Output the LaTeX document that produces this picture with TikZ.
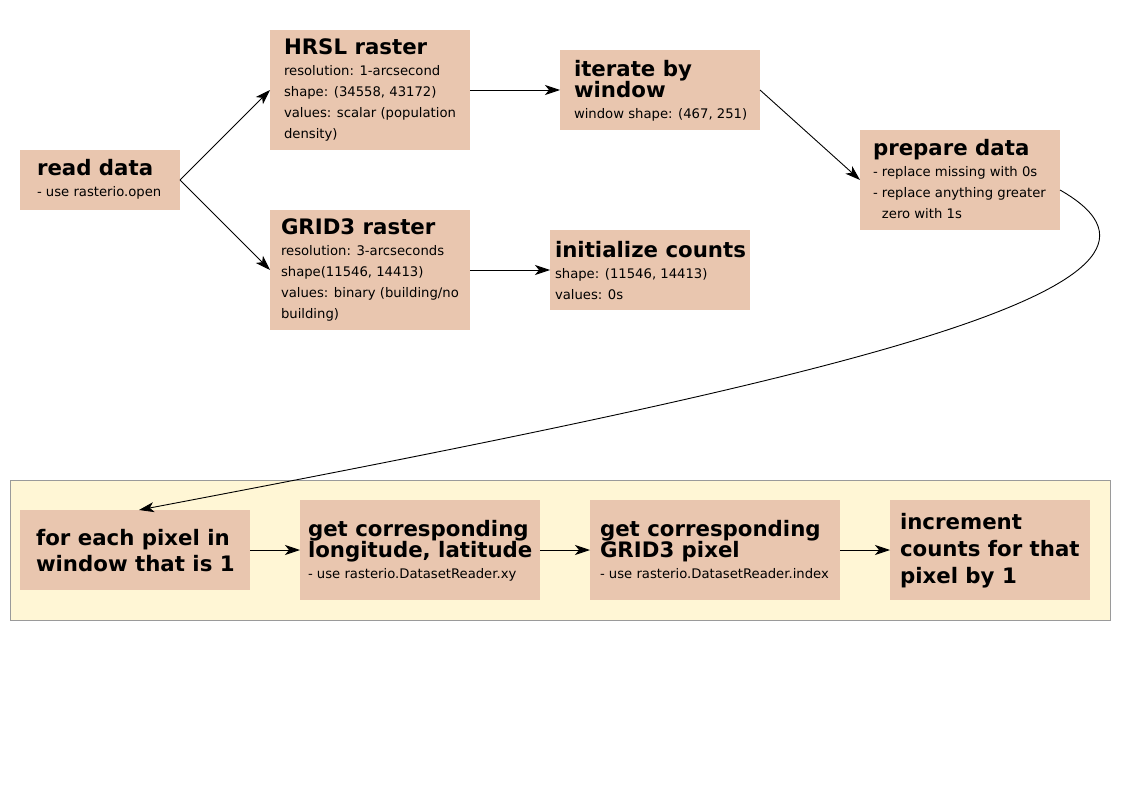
\documentclass[tikz,border=0pt]{standalone}
\usepackage{fontspec}
\setmainfont{DejaVu Sans}
\usetikzlibrary{arrows.meta}
\definecolor{boxfill}{HTML}{E9C6AF}
\definecolor{loopfill}{HTML}{FFF6D5}
\definecolor{loopdraw}{HTML}{9A9A9A}
\newcommand\ttl[1]{\hbox{\fontsize{21.3}{21}\selectfont\bfseries #1}}
\newcommand\bdy[1]{\hbox{\fontsize{13.2}{21}\selectfont #1}}
\newcommand\txtstack[2]{\vtop{\baselineskip=#1pt\lineskiplimit=-100pt #2}}
\begin{document}
\begin{tikzpicture}[x=1pt,y=-1pt,
  box/.style={fill=boxfill, draw=none, inner sep=0pt, outer sep=0pt, anchor=north west},
  loopbox/.style={fill=loopfill, draw=loopdraw, line width=1pt, inner sep=0pt, outer sep=0pt, anchor=north west},
  txt/.style={inner sep=0pt, outer sep=0pt, anchor=base west, text=black},
  conn/.style={draw=black, line width=0.9pt, -{Stealth[length=15pt,width=10pt,inset=4pt]}}]
\useasboundingbox (0,0) rectangle (1123,794);
\fill[white] (0,0) rectangle (1123,794);

% loop container
\node[loopbox, minimum width=1100pt, minimum height=140pt] (loop) at (10,480) {};

% boxes
\node[box, minimum width=160pt, minimum height=60pt]  (rd)   at (20,150) {};
\node[box, minimum width=200pt, minimum height=120pt] (hrsl) at (270,30) {};
\node[box, minimum width=200pt, minimum height=120pt] (grid) at (270,210) {};
\node[box, minimum width=200pt, minimum height=80pt]  (iter) at (560,50) {};
\node[box, minimum width=200pt, minimum height=80pt]  (init) at (550,230) {};
\node[box, minimum width=200pt, minimum height=100pt] (prep) at (860,130) {};
\node[box, minimum width=230pt, minimum height=80pt]  (each) at (20,510) {};
\node[box, minimum width=240pt, minimum height=100pt] (lon)  at (300,500) {};
\node[box, minimum width=250pt, minimum height=100pt] (gpx)  at (590,500) {};
\node[box, minimum width=200pt, minimum height=100pt] (inc)  at (890,500) {};

% texts
\node[txt] (rdT) at (37,176) {\txtstack{21}{\ttl{read data}\bdy{- use rasterio.open}}};
\node[txt] (hrslT) at (284,54.5) {\txtstack{21}{\ttl{HRSL raster}\bdy{resolution: 1-arcsecond}\bdy{shape: (34558, 43172)}\bdy{values: scalar (population}\bdy{density)}}};
\node[txt] (gridT) at (281,234.5) {\txtstack{21}{\ttl{GRID3 raster}\bdy{resolution: 3-arcseconds}\bdy{shape(11546, 14413)}\bdy{values: binary (building/no}\bdy{building)}}};
\node[txt] (iterT) at (574,76.5) {\txtstack{21}{\ttl{iterate by}\ttl{window}\bdy{window shape: (467, 251)}}};
\node[txt] (initT) at (555,257) {\txtstack{21}{\ttl{initialize counts}\bdy{shape: (11546, 14413)}\bdy{values: 0s}}};
\node[txt] (prepT) at (873,156) {\txtstack{21}{\ttl{prepare data}\bdy{- replace missing with 0s}\bdy{- replace anything greater}\bdy{\hphantom{- }zero with 1s}}};
\node[txt] (eachT) at (36,545) {\txtstack{26.8}{\ttl{for each pixel in}\ttl{window that is 1}}};
\node[txt] (lonT) at (308,536.5) {\txtstack{21}{\ttl{get corresponding}\ttl{longitude, latitude}\bdy{- use rasterio.DatasetReader.xy}}};
\node[txt] (gpxT) at (600,536.5) {\txtstack{21}{\ttl{get corresponding}\ttl{GRID3 pixel}\bdy{- use rasterio.DatasetReader.index}}};
\node[txt] (incT) at (900,529) {\txtstack{27}{\ttl{increment}\ttl{counts for that}\ttl{pixel by 1}}};

% connectors
\draw[conn] (rd.east) -- (hrsl.west);
\draw[conn] (rd.east) -- (grid.west);
\draw[conn] (hrsl.east) -- (iter.west);
\draw[conn] (grid.east) -- (init.west);
\draw[conn] (iter.east) -- (prep.west);
\draw[conn] ([yshift=-10pt]prep.east) .. controls +(172,98) and +(690,-131) .. ([xshift=4pt]each.north);
\draw[conn] (each.east) -- (lon.west);
\draw[conn] (lon.east) -- (gpx.west);
\draw[conn] (gpx.east) -- (inc.west);
\end{tikzpicture}
\end{document}
